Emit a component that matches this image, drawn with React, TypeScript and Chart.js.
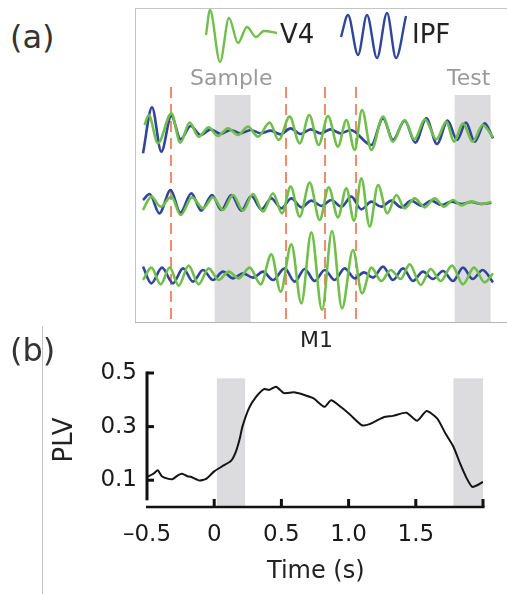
import React, { useEffect, useRef } from "react";
import { Chart, registerables } from "chart.js";
Chart.register(...registerables);

// ---------- Panel (a): V4 / IPF filtered LFP traces (time in ms, amplitude in a.u.) ----------
const ROW_OFFSETS = [571, 358, 141];

const R1_IPF_T = [-537.5, -470, -400, -325, -255, -180, -105, -30, 45, 120, 195, 270, 345, 420, 495, 570, 645, 720, 795, 870, 945, 1020, 1175, 1262.5, 1337.5, 1425, 1505, 1587.5, 1667.5, 1747.5, 1817.5, 1885, 1950, 2025, 2087.5];
const R1_IPF_V = [-65, 73, -60, 47, -23, 17, -10, 7, -7, 5, -5, 5, -5, 3, -8, 10, -7, 7, -5, 7, -5, 5, -40, 40, -25, 33, -33, 40, -37, 33, -25, 27, -30, 25, -20];
const R1_V4_T = [-525, -495, -425, -325, -257.5, -187.5, -120, -45, 25, 100, 175, 250, 325, 412.5, 480, 562.5, 637.5, 710, 780, 850, 925, 987.5, 1050, 1105, 1175, 1262.5, 1337.5, 1425, 1497.5, 1577.5, 1662.5, 1737.5, 1795, 1862.5, 1935, 2010, 2087.5];
const R1_V4_V = [20, 50, -35, 55, -33, 27, -15, 13, -13, 10, -10, 15, -15, 27, -25, 45, -35, 50, -40, 47, -45, 35, -55, 65, -55, 45, -30, 35, -23, 37, -23, 30, -30, 25, -30, 20, -17];

const R2_IPF_T = [-537.5, -487.5, -415, -330, -257.5, -175, -100, -20, 50, 125, 200, 275, 350, 425, 500, 575, 650, 725, 800, 875, 950, 1025, 1100, 1175, 1250, 1325, 1400, 1475, 1550, 1625, 1700, 1775, 1850, 1925, 2000, 2075];
const R2_IPF_V = [8, 26, -32, 38, -30, 28, -24, 23, -22, 23, -24, 20, -20, 13, -17, 13, -14, 6, -10, 8, -12, 18, -20, 3, -12, 6, -14, 6, -10, 6, -7, 3, -4, 2, -4, 0];
const R2_V4_T = [-537.5, -475, -405, -325, -255, -170, -87.5, -12.5, 62.5, 137.5, 212.5, 287.5, 362.5, 437.5, 505, 570, 637.5, 712.5, 787.5, 855, 925, 987.5, 1045, 1100, 1162.5, 1225, 1295, 1362.5, 1425, 1500, 1575, 1650, 1720, 1787.5, 1850, 1925, 2000, 2075];
const R2_V4_V = [-22, 18, -12, 18, -37, 16, -17, 16, -22, 23, -24, 26, -27, 28, -32, 48, -42, 60, -52, 46, -44, 43, -54, 73, -72, 53, -32, 23, -17, 13, -14, 13, -12, 8, -8, 4, -4, 2];

const R3_IPF_T = [-537.5, -475, -395, -312.5, -237.5, -162.5, -87.5, -12.5, 62.5, 137.5, 212.5, 287.5, 362.5, 437.5, 525, 600, 675, 750, 825, 900, 975, 1050, 1120, 1187.5, 1262.5, 1337.5, 1412.5, 1487.5, 1562.5, 1637.5, 1712.5, 1787.5, 1862.5, 1935, 2010, 2087.5];
const R3_IPF_V = [25, -25, 22, -25, 20, -20, 15, -15, 10, -10, 5, -8, 10, -15, 20, -20, 18, -18, 15, -15, 20, -10, 8, -8, 25, -15, 20, -18, 10, -12, 12, -18, 22, -12, 15, -22];
const R3_V4_T = [-537.5, -475, -405, -337.5, -270, -195, -120, -45, 30, 105, 180, 262.5, 345, 425, 495, 575, 650, 725, 805, 880, 955, 1037.5, 1105, 1175, 1250, 1320, 1395, 1462.5, 1545, 1620, 1695, 1780, 1862.5, 1945, 2025, 2087.5];
const R3_V4_V = [-15, 22, -28, 22, -32, 28, -28, 20, -15, 10, -10, 22, -28, 62, -50, 92, -85, 128, -105, 132, -100, 75, -55, 22, -18, 15, -12, 32, -30, 18, -18, 28, -28, 22, -22, 5];

const A_BANDS = [[0, 270], [1800, 2070]];
const A_BAND_TOP = 681;
const A_EVENTS = [-330, 535, 830, 1060];
const A_EVENT_TOP = 705;

// legend wavelet icons
const V4_ICON_T = [0, 4, 14, 23, 32, 41, 50, 58, 71];
const V4_ICON_V = [-2, 23, -29, 15, -10, 6, -4, 2, 0];
const IPF_ICON_T = [1, 8, 18, 27, 37, 47, 56, 66];
const IPF_ICON_V = [-1, 21, -19, 21, -22, 23, -22, 20];

// ---------- Panel (b): PLV over time ----------
const PLV_T = [-0.5, -0.45, -0.42, -0.39, -0.34, -0.31, -0.27, -0.24, -0.2, -0.17, -0.11, -0.06, 0.0, 0.06, 0.125, 0.16, 0.19, 0.21, 0.26, 0.31, 0.37, 0.41, 0.46, 0.52, 0.59, 0.66, 0.74, 0.82, 0.87, 0.94, 1.01, 1.1, 1.16, 1.26, 1.33, 1.43, 1.51, 1.58, 1.66, 1.72, 1.78, 1.83, 1.88, 1.92, 1.96, 2.0];
const PLV_V = [0.112, 0.125, 0.137, 0.115, 0.105, 0.104, 0.118, 0.124, 0.115, 0.112, 0.099, 0.105, 0.133, 0.152, 0.172, 0.205, 0.255, 0.3, 0.37, 0.41, 0.44, 0.437, 0.449, 0.425, 0.428, 0.42, 0.405, 0.374, 0.398, 0.374, 0.345, 0.305, 0.31, 0.335, 0.34, 0.352, 0.322, 0.358, 0.33, 0.275, 0.225, 0.162, 0.106, 0.075, 0.082, 0.094];
const B_BANDS = [[0.02, 0.23], [1.78, 2.0]];
const B_BAND_TOP = 0.48;
const X_TICK_VALUES = [-0.5, 0, 0.5, 1, 1.5];
const X_TICK_LABELS = ["\u20130.5", "0", "0.5", "1.0", "1.5"];
const X_TICK_MARKS = [0, 0.5, 1, 1.5, 2];
const Y_TICK_VALUES = [0.1, 0.3, 0.5];
const Y_TICK_LABELS = ["0.1", "0.3", "0.5"];
const X_RANGE = [-0.5, 2.0];
const Y_RANGE = [0, 0.5];
const Y_AXIS_END = 0.025;

const GREEN = "#6fbf4a";
const BLUE = "#2f469b";
const BAND = "#dcdcde";
const DASH = "#ef8c6e";
const FONT = "'DejaVu Sans', sans-serif";

const pts = (T: number[], V: number[], off = 0) => T.map((t, i) => ({ x: t, y: V[i] + off }));

const line = (data: any, color: string, w = 2.6) => ({
  data,
  borderColor: color,
  borderWidth: w,
  pointRadius: 0,
  fill: false,
  cubicInterpolationMode: "monotone",
});

function ChartCanvas({ left, top, width, height, config }: any) {
  const ref = useRef<HTMLCanvasElement>(null);
  useEffect(() => {
    const chart = new Chart(ref.current as HTMLCanvasElement, config());
    return () => chart.destroy();
  }, []);
  return (
    <canvas
      ref={ref}
      width={width}
      height={height}
      style={{ position: "absolute", left, top, width, height }}
    />
  );
}

const baseOpts = (xmin: number, xmax: number, ymin: number, ymax: number) => ({
  animation: false,
  responsive: false,
  maintainAspectRatio: false,
  layout: { autoPadding: false, padding: 0 },
  plugins: { legend: { display: false }, tooltip: { enabled: false }, title: { display: false } },
  scales: {
    x: { type: "linear", min: xmin, max: xmax, display: false },
    y: { type: "linear", min: ymin, max: ymax, display: false },
  },
});

const panelAConfig = () => {
  const bands = {
    id: "bandsA",
    beforeDatasetsDraw(chart: any) {
      const { ctx, scales } = chart;
      const { x, y } = scales;
      ctx.save();
      ctx.fillStyle = BAND;
      for (const [a, b] of A_BANDS) {
        const x0 = x.getPixelForValue(a);
        const x1 = x.getPixelForValue(b);
        const yt = y.getPixelForValue(A_BAND_TOP);
        const yb = y.getPixelForValue(0);
        ctx.fillRect(x0, yt, x1 - x0, yb - yt);
      }
      ctx.strokeStyle = DASH;
      ctx.lineWidth = 2;
      ctx.setLineDash([11, 6]);
      for (const e of A_EVENTS) {
        const xp = Math.round(x.getPixelForValue(e));
        ctx.beginPath();
        ctx.moveTo(xp, y.getPixelForValue(A_EVENT_TOP));
        ctx.lineTo(xp, y.getPixelForValue(0));
        ctx.stroke();
      }
      ctx.restore();
    },
  };
  // Chart.js paints dataset 0 last (on top): V4 (green) listed first so it lies over IPF.
  return {
    type: "line",
    data: {
      datasets: [
        line(pts(R1_V4_T, R1_V4_V, ROW_OFFSETS[0]), GREEN),
        line(pts(R2_V4_T, R2_V4_V, ROW_OFFSETS[1]), GREEN),
        line(pts(R3_V4_T, R3_V4_V, ROW_OFFSETS[2]), GREEN),
        line(pts(R1_IPF_T, R1_IPF_V, ROW_OFFSETS[0]), BLUE),
        line(pts(R2_IPF_T, R2_IPF_V, ROW_OFFSETS[1]), BLUE),
        line(pts(R3_IPF_T, R3_IPF_V, ROW_OFFSETS[2]), BLUE),
      ],
    },
    options: baseOpts(-590, 2192.5, 0, 942),
    plugins: [bands],
  };
};

const iconConfig = (T: number[], V: number[], color: string, xmin: number, xmax: number, ymin: number, ymax: number) => () => ({
  type: "line",
  data: { datasets: [line(pts(T, V), color, 2.4)] },
  options: baseOpts(xmin, xmax, ymin, ymax),
});

const panelBConfig = () => {
  const deco = {
    id: "decoB",
    beforeDatasetsDraw(chart: any) {
      const { ctx, scales } = chart;
      const { x, y } = scales;
      ctx.save();
      ctx.fillStyle = BAND;
      for (const [a, b] of B_BANDS) {
        const x0 = x.getPixelForValue(a);
        const x1 = x.getPixelForValue(b);
        const yt = y.getPixelForValue(B_BAND_TOP);
        const yb = y.getPixelForValue(Y_RANGE[0]);
        ctx.fillRect(x0, yt, x1 - x0, yb - yt);
      }
      ctx.restore();
    },
    afterDraw(chart: any) {
      const { ctx, scales } = chart;
      const { x, y } = scales;
      ctx.save();
      ctx.strokeStyle = "#111";
      ctx.lineCap = "butt";
      const xl = x.getPixelForValue(X_RANGE[0]);
      const y0 = y.getPixelForValue(Y_RANGE[0]);
      // y axis (offset style, stops above x axis)
      ctx.lineWidth = 3;
      ctx.beginPath();
      ctx.moveTo(xl, y.getPixelForValue(Y_RANGE[1]) - 1.5);
      ctx.lineTo(xl, y.getPixelForValue(Y_AXIS_END));
      ctx.stroke();
      for (const v of Y_TICK_VALUES) {
        const yp = y.getPixelForValue(v);
        ctx.beginPath();
        ctx.moveTo(xl, yp);
        ctx.lineTo(xl + 7, yp);
        ctx.stroke();
      }
      // x axis
      ctx.lineWidth = 2.5;
      ctx.beginPath();
      ctx.moveTo(xl - 1, y0);
      ctx.lineTo(x.getPixelForValue(X_RANGE[1]) + 1.5, y0);
      ctx.stroke();
      ctx.lineWidth = 3;
      for (const v of X_TICK_MARKS) {
        const xp = x.getPixelForValue(v);
        ctx.beginPath();
        ctx.moveTo(xp, y0);
        ctx.lineTo(xp, y0 - 8);
        ctx.stroke();
      }
      ctx.restore();
    },
  };
  return {
    type: "line",
    data: {
      datasets: [
        {
          data: pts(PLV_T, PLV_V),
          borderColor: "#141414",
          borderWidth: 2,
          pointRadius: 0,
          fill: false,
          tension: 0.2,
        },
      ],
    },
    options: {
      animation: false,
      responsive: false,
      maintainAspectRatio: false,
      layout: { autoPadding: false, padding: { top: 48, right: 24, left: 0, bottom: 0 } },
      plugins: { legend: { display: false }, tooltip: { enabled: false } },
      scales: {
        x: {
          type: "linear",
          min: X_RANGE[0],
          max: X_RANGE[1],
          border: { display: false },
          grid: { display: false, drawTicks: false },
          ticks: {
            autoSkip: false,
            maxRotation: 0,
            padding: 14,
            color: "#1a1a1a",
            font: { family: FONT, size: 23 },
            callback: (_v: any, i: number) => X_TICK_LABELS[i],
          },
          afterBuildTicks: (s: any) => {
            s.ticks = X_TICK_VALUES.map((v) => ({ value: v }));
          },
          afterFit: (s: any) => {
            s.height = 87;
          },
        },
        y: {
          type: "linear",
          min: Y_RANGE[0],
          max: Y_RANGE[1],
          border: { display: false },
          grid: { display: false, drawTicks: false },
          ticks: {
            autoSkip: false,
            padding: 10,
            color: "#1a1a1a",
            font: { family: FONT, size: 23 },
            callback: (_v: any, i: number) => Y_TICK_LABELS[i],
          },
          afterBuildTicks: (s: any) => {
            s.ticks = Y_TICK_VALUES.map((v) => ({ value: v }));
          },
          afterFit: (s: any) => {
            s.width = 103;
          },
        },
      },
    },
    plugins: [deco],
  };
};

const T = ({ children, left, top, size, color = "#222", style = {} }: any) => (
  <div
    style={{
      position: "absolute",
      left,
      top,
      fontFamily: FONT,
      fontSize: size,
      lineHeight: 1,
      color,
      whiteSpace: "nowrap",
      ...style,
    }}
  >
    {children}
  </div>
);

export default function App() {
  return (
    <div style={{ position: "absolute", left: 0, top: 0, width: 507, height: 594, background: "#fff", overflow: "hidden" }}>
      {/* panel frames */}
      <div style={{ position: "absolute", left: 135, top: 8, width: 372, height: 1, background: "#c4c4c4" }} />
      <div style={{ position: "absolute", left: 135, top: 8, width: 1, height: 315, background: "#c4c4c4" }} />
      <div style={{ position: "absolute", left: 135, top: 322, width: 372, height: 1, background: "#b8b8b8" }} />
      <div style={{ position: "absolute", left: 42, top: 326, width: 1, height: 268, background: "#c4c4c4" }} />

      <ChartCanvas left={136} top={8} width={371} height={314} config={panelAConfig} />
      <ChartCanvas left={200} top={4} width={82} height={64} config={iconConfig(V4_ICON_T, V4_ICON_V, GREEN, -6, 76, -35, 29)} />
      <ChartCanvas left={334} top={4} width={80} height={64} config={iconConfig(IPF_ICON_T, IPF_ICON_V, BLUE, -6, 74, -32, 32)} />
      <ChartCanvas left={44} top={325} width={463} height={269} config={panelBConfig} />

      <T left={10} top={21} size={32} color="#333">(a)</T>
      <T left={10} top={334} size={32} color="#333">(b)</T>
      <T left={280} top={21} size={26}>V4</T>
      <T left={412} top={21} size={26}>IPF</T>
      <T left={190} top={67} size={22} color="#9a9a9a">Sample</T>
      <T left={447} top={67} size={22} color="#9a9a9a">Test</T>
      <T left={300} top={329} size={22}>M1</T>
      <T left={267} top={558} size={24}>Time (s)</T>
      <T left={63} top={440} size={26} style={{ transform: "translate(-50%, -50%) rotate(-90deg)" }}>PLV</T>
    </div>
  );
}
